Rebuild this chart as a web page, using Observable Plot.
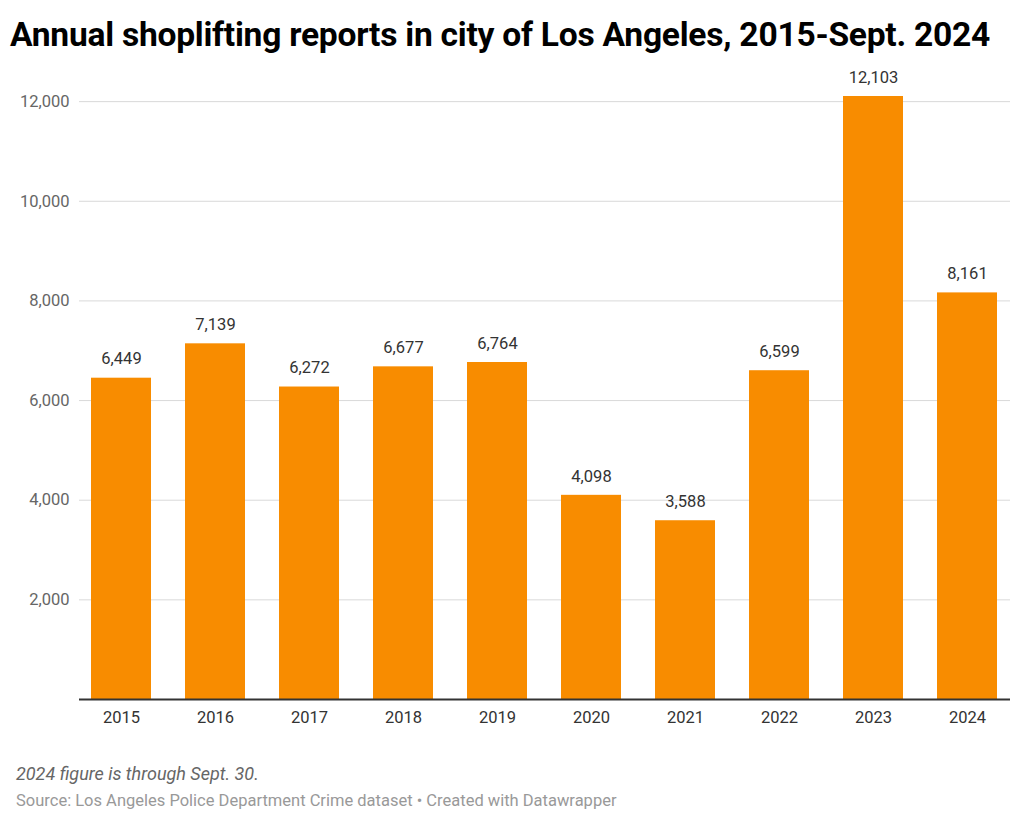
<!DOCTYPE html>
<html><head><meta charset="utf-8">
<script src="https://cdn.jsdelivr.net/npm/d3@7"></script>
<script src="https://cdn.jsdelivr.net/npm/@observablehq/plot@0.6"></script>
<style>
body{margin:0;background:#fff;font-family:Roboto,sans-serif;width:1024px;height:827px;overflow:hidden}
#title{position:absolute;left:10px;top:15px;font-size:33.6px;line-height:40px;font-weight:700;color:#000;letter-spacing:-0.25px;white-space:nowrap}
#chart{position:absolute;left:0;top:60px}
#note{position:absolute;left:16px;top:762px;font-size:18px;line-height:24px;font-style:italic;color:#666}
#source{position:absolute;left:16px;top:791px;font-size:16.5px;line-height:20px;color:#999}
</style></head>
<body>
<div id="title">Annual shoplifting reports in city of Los Angeles, 2015-Sept. 2024</div>
<div id="chart"></div>
<div id="note">2024 figure is through Sept. 30.</div>
<div id="source">Source: Los Angeles Police Department Crime dataset • Created with Datawrapper</div>
<script>
const years = ["2015","2016","2017","2018","2019","2020","2021","2022","2023","2024"];
const reports = [6449, 7139, 6272, 6677, 6764, 4098, 3588, 6599, 12103, 8161];
const yTicks = [2000, 4000, 6000, 8000, 10000, 12000];
const data = years.map((y, i) => ({year: y, value: reports[i]}));
const fmt = d3.format(",");

const chart = Plot.plot({
  width: 1024,
  height: 680,
  marginLeft: 79,
  marginRight: 14,
  marginTop: 36,
  marginBottom: 41,
  style: {fontFamily: "Roboto, sans-serif", fontSize: "16px", background: "white"},
  x: {domain: years, paddingInner: 0.36, paddingOuter: 0.13, label: null, tickSize: 0, tickPadding: 12},
  y: {domain: [0, 12103], label: null, ticks: yTicks, tickFormat: fmt},
  marks: [
    Plot.gridY(yTicks, {stroke: "#d9d9d9", strokeOpacity: 1, strokeWidth: 1}),
    Plot.axisY(yTicks, {tickSize: 0, tickPadding: 10, tickFormat: fmt, fill: "#666", fontSize: 16.5, label: null}),
    Plot.axisX({tickSize: 0, tickPadding: 12, fill: "#333", fontSize: 16.5, label: null}),
    Plot.barY(data, {x: "year", y: "value", fill: "#f88c00"}),
    Plot.ruleY([0], {stroke: "#333", strokeWidth: 2}),
    Plot.text(data, {x: "year", y: "value", text: d => fmt(d.value), dy: -19, fill: "#333", fontSize: 16.5})
  ]
});
document.getElementById("chart").appendChild(chart);
</script>
</body></html>
